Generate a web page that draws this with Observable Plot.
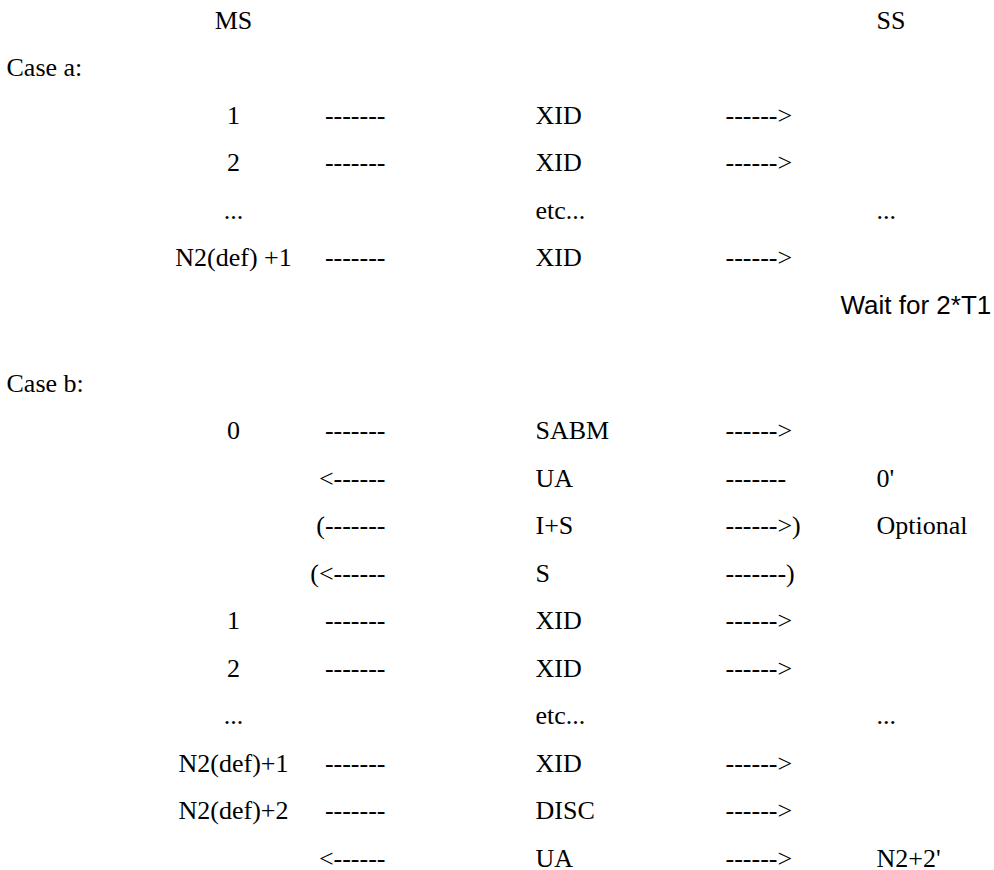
<!DOCTYPE html>
<html>
<head>
<meta charset="utf-8">
<script src="https://cdn.jsdelivr.net/npm/d3@7"></script>
<script src="https://cdn.jsdelivr.net/npm/@observablehq/plot@0.6"></script>
<style>
  html, body { margin: 0; padding: 0; background: #fff; }
  #chart svg { display: block; }
</style>
</head>
<body>
<div id="chart"></div>
<script>
// ---- Data (text of the sequence table) ----
const headers = ["MS", "SS"];
const caseLabels = ["Case a:", "Case b:"];

const caseANum   = ["1", "2", "...", "N2(def) +1"];
const caseALeft  = ["-------", "-------", "", "-------"];
const caseAMsg   = ["XID", "XID", "etc...", "XID"];
const caseARight = ["------>", "------>", "", "------>"];
const caseASS    = ["", "", "...", ""];
const caseANote  = "Wait for 2*T1";

const caseBNum   = ["0", "", "", "", "1", "2", "...", "N2(def)+1", "N2(def)+2", ""];
const caseBLeft  = ["-------", "<------", "(-------", "(<------", "-------", "-------", "", "-------", "-------", "<------"];
const caseBMsg   = ["SABM", "UA", "I+S", "S", "XID", "XID", "etc...", "XID", "DISC", "UA"];
const caseBRight = ["------>", "-------", "------>)", "-------)", "------>", "------>", "", "------>", "------>", "------>"];
const caseBSS    = ["", "0'", "Optional", "", "", "", "...", "", "", "N2+2'"];

// row (line) numbers
const caseALabelLine = 1;
const caseBLabelLine = 7.64;

// ---- Layout ----
const colX = {label: 6, ms: 233, left: 385, msg: 535, right: 725, ss: 876, note: 840};
const anchorOf = {label: "start", ms: "middle", left: "end", msg: "start", right: "start", ss: "start", note: "start"};

const rows = [];
rows.push({line: 0, col: "ms", text: headers[0]});
rows.push({line: 0, col: "ss", text: headers[1]});
rows.push({line: caseALabelLine, col: "label", text: caseLabels[0]});
caseANum.forEach((_, i) => {
  const line = caseALabelLine + 1 + i;
  rows.push({line, col: "ms", text: caseANum[i]});
  rows.push({line, col: "left", text: caseALeft[i]});
  rows.push({line, col: "msg", text: caseAMsg[i]});
  rows.push({line, col: "right", text: caseARight[i]});
  rows.push({line, col: "ss", text: caseASS[i]});
});
const noteRow = {line: caseALabelLine + 1 + caseANum.length, col: "note", text: caseANote};
rows.push({line: caseBLabelLine, col: "label", text: caseLabels[1]});
caseBNum.forEach((_, i) => {
  const line = caseBLabelLine + 1 + i;
  rows.push({line, col: "ms", text: caseBNum[i]});
  rows.push({line, col: "left", text: caseBLeft[i]});
  rows.push({line, col: "msg", text: caseBMsg[i]});
  rows.push({line, col: "right", text: caseBRight[i]});
  rows.push({line, col: "ss", text: caseBSS[i]});
});
const cells = rows.filter(d => d.text !== "");

const serif = "'Liberation Serif', 'Times New Roman', Times, serif";
const sans = "'Liberation Sans', Arial, Helvetica, sans-serif";

const textMark = (anchor) => Plot.text(cells.filter(d => anchorOf[d.col] === anchor), {
  x: d => colX[d.col],
  y: "line",
  text: "text",
  textAnchor: anchor,
  fontSize: 26,
  fontFamily: serif,
  fill: "#000"
});

const chart = Plot.plot({
  width: 994,
  height: 870,
  margin: 0,
  style: {background: "#fff", fontFamily: serif},
  x: {domain: [0, 994], range: [0, 994], axis: null},
  y: {domain: [0, caseBLabelLine + caseBNum.length], range: [20, 858], axis: null},
  marks: [
    textMark("start"),
    textMark("middle"),
    textMark("end"),
    Plot.text([noteRow], {
      x: d => colX[d.col],
      y: "line",
      text: "text",
      textAnchor: "start",
      fontSize: 26,
      fontFamily: sans,
      fill: "#000"
    })
  ]
});
document.getElementById("chart").appendChild(chart);
</script>
</body>
</html>
